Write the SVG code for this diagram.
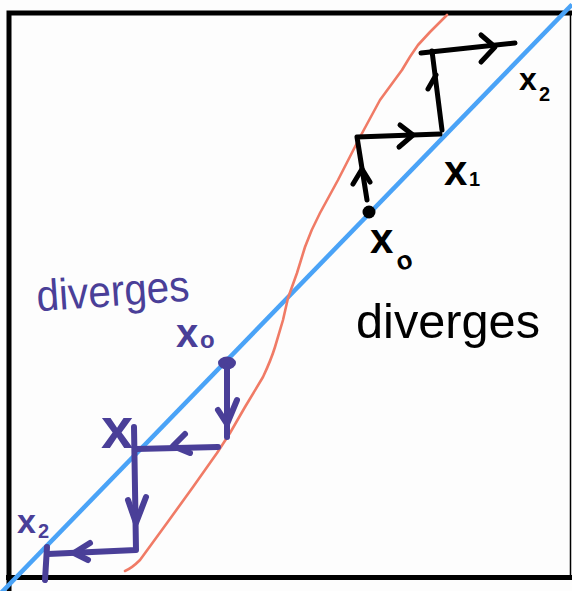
<svg xmlns="http://www.w3.org/2000/svg" width="572" height="591" viewBox="0 0 572 591">
<style>
.bk{fill:none;stroke:#000;stroke-width:5;stroke-linecap:round;stroke-linejoin:round}
.pu{fill:none;stroke:#4a3f98;stroke-width:6;stroke-linecap:round;stroke-linejoin:round}
.pt{fill:#4a3f98;font-family:"Liberation Sans",Arial,sans-serif}
.bt{fill:#000;font-family:"Liberation Sans",Arial,sans-serif}
</style>
<rect x="0" y="0" width="572" height="591" fill="#fdfdfd"/>
<g id="frame">
<polyline points="9,595 9,13 575,13" fill="none" stroke="#000" stroke-width="5"/>
<line x1="6" y1="577.5" x2="575" y2="577.5" stroke="#000" stroke-width="5"/>
<line x1="570.5" y1="13" x2="570.5" y2="580" stroke="#000" stroke-width="1.5"/>
</g>
<g id="curves">
<path id="identity" d="M0,594 L572,4.6" stroke="#4aa3f7" stroke-width="4.5" fill="none"/>
<path id="map" d="M125,571 Q132,568 140,560 L167,523 L193,487 L217,453 L230,433 L245,407 L263,377 Q271,360 275,347 L283,320 L288,298 L297,273 L305,247 Q311,230 320,213 L338,180 L360,137 L380,100 L402,70 Q410,56 418,45 L430,32 L447,15" fill="none" stroke="#f07b66" stroke-width="2.6" stroke-linecap="round" stroke-linejoin="round"/>
</g>
<g id="cobweb-right">
<circle cx="369" cy="212" r="6.5" fill="#000"/>
<polyline class="bk" points="367,200 357,137 440,134"/>
<polyline class="bk" points="353,184 362,169 370,182"/>
<polyline class="bk" points="400,125 413,135 399,147"/>
<polyline class="bk" points="442,130 432,51"/>
<polyline class="bk" points="428,89 436,75"/>
<polyline class="bk" points="421,53 515,43"/>
<polyline class="bk" points="481,35 495,47 481,62"/>
</g>
<g id="cobweb-left">
<ellipse cx="227" cy="363" rx="9" ry="6.5" fill="#4a3f98"/>
<polyline class="pu" points="227,366 227,437"/>
<polyline class="pu" points="218,410 227,424 237,400"/>
<polyline class="pu" points="218,447 136,449"/>
<polyline class="pu" points="185,434 173,446 190,453"/>
<polyline class="pu" points="134,427 136,550 48,554"/>
<polyline class="pu" points="128,500 136,523 146,497"/>
<polyline class="pu" points="90,543 74,553 88,560"/>
<polyline class="pu" points="47,547 45,580"/>
</g>
<g id="labels">
<text class="bt" x="356" y="338" font-size="48" textLength="184" lengthAdjust="spacingAndGlyphs">diverges</text>
<text class="pt" x="37" y="306" font-size="44" textLength="153" lengthAdjust="spacingAndGlyphs" transform="rotate(-4 113 300)">diverges</text>
<text class="bt" x="519" y="90" font-size="32" font-weight="bold">x</text>
<text class="bt" x="539" y="101" font-size="20" font-weight="bold">2</text>
<text class="bt" x="444" y="185" font-size="42" font-weight="bold">x</text>
<text class="bt" x="469" y="186" font-size="20" font-weight="bold">1</text>
<text class="bt" x="370" y="253" font-size="42" font-weight="bold">x</text>
<text class="bt" x="396" y="268" font-size="26" font-weight="bold" transform="rotate(-20 408 260)">o</text>
<text class="pt" x="176" y="347" font-size="40" font-weight="bold">x</text>
<text class="pt" x="200" y="348" font-size="24" font-weight="bold">o</text>
<text class="pt" x="101" y="448" font-size="58" font-weight="bold">x</text>
<text class="pt" x="17" y="533" font-size="34" font-weight="bold">x</text>
<text class="pt" x="38" y="538" font-size="20" font-weight="bold">2</text>
</g>
</svg>
